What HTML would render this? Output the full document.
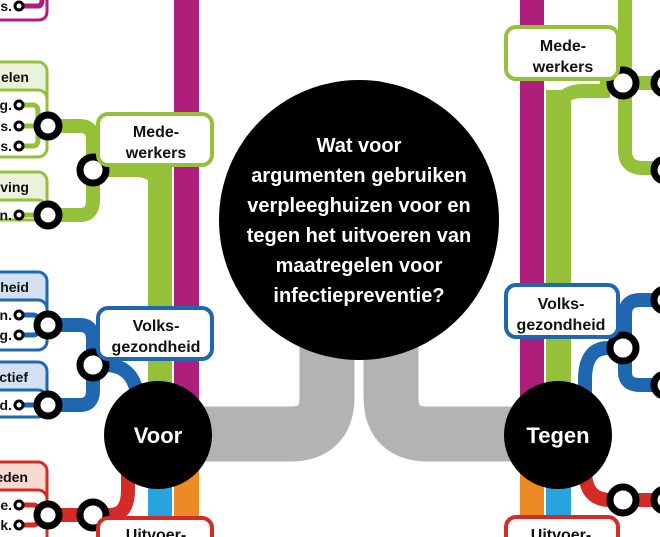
<!DOCTYPE html>
<html><head><meta charset="utf-8"><style>
html,body{margin:0;padding:0;background:#fff;}
svg{display:block}
</style></head><body>
<svg width="660" height="537" viewBox="0 0 660 537" xmlns="http://www.w3.org/2000/svg" font-family="Liberation Sans, sans-serif" font-weight="700">
<!-- gray connectors -->
<g fill="none" stroke="#b3b3b3" stroke-width="55">
<path d="M200 434 H290 Q327 434 327 397 V330"/>
<path d="M520 434 H428 Q391 434 391 397 V330"/>
</g>
<!-- LEFT vertical lines -->
<rect x="174" y="0" width="25" height="420" fill="#b01e7c"/>
<rect x="148" y="160" width="24" height="240" fill="#95c13a"/>
<rect x="148" y="470" width="24" height="67" fill="#27a3de"/>
<rect x="174" y="470" width="25" height="67" fill="#ee8a25"/>
<!-- top magenta box -->
<path d="M0 20 H38 Q47 20 47 11 V0" fill="none" stroke="#b01e7c" stroke-width="3"/>
<path d="M20 6 H38 Q42 6 42 0" fill="none" stroke="#b01e7c" stroke-width="5"/>
<!-- green boxes left -->
<rect x="-10" y="62" width="57" height="95" rx="9" fill="#eaf2dc" stroke="#95c13a" stroke-width="3"/>
<rect x="-10" y="90" width="57" height="67" rx="9" fill="#fff" stroke="#95c13a" stroke-width="3"/>
<rect x="-10" y="172" width="57" height="48" rx="9" fill="#eaf2dc" stroke="#95c13a" stroke-width="3"/>
<rect x="-10" y="200" width="57" height="20" rx="9" fill="#fff" stroke="#95c13a" stroke-width="3"/>
<g fill="none" stroke="#95c13a" stroke-width="5">
<path d="M19 105 H33 Q38 105 38 112 V139 Q38 146 33 146 H19"/>
<path d="M19 126 H48"/>
<path d="M19 215 H48"/>
</g>
<g fill="none" stroke="#95c13a" stroke-width="14">
<path d="M48 126 H80 Q93 126 93 140 V200 Q93 215 80 215 H48"/>
<path d="M93 170 H135 Q160 170 160 195 V400"/>
</g>
<!-- blue boxes left -->
<rect x="-10" y="272" width="57" height="78" rx="9" fill="#d3e0f1" stroke="#1f67b1" stroke-width="3"/>
<rect x="-10" y="300" width="57" height="50" rx="9" fill="#fff" stroke="#1f67b1" stroke-width="3"/>
<rect x="-10" y="362" width="57" height="55" rx="9" fill="#d3e0f1" stroke="#1f67b1" stroke-width="3"/>
<rect x="-10" y="390" width="57" height="27" rx="9" fill="#fff" stroke="#1f67b1" stroke-width="3"/>
<g fill="none" stroke="#1f67b1" stroke-width="5">
<path d="M19 315 H33 Q38 315 38 320 V330 Q38 335 33 335 H19"/>
<path d="M19 405 H48"/>
</g>
<g fill="none" stroke="#1f67b1" stroke-width="14">
<path d="M48 325 H80 Q93 325 93 340 V390 Q93 405 80 405 H48"/>
<path d="M93 365 H105 Q135 365 138 400"/>
</g>
<!-- red left -->
<rect x="-10" y="462" width="57" height="90" rx="9" fill="#f7d9cf" stroke="#d52b26" stroke-width="3"/>
<rect x="-10" y="490" width="57" height="60" rx="9" fill="#fff" stroke="#d52b26" stroke-width="3"/>
<g fill="none" stroke="#d52b26" stroke-width="5">
<path d="M19 505 H33 Q38 505 38 510 V520 Q38 525 33 525 H19"/>
</g>
<g fill="none" stroke="#d52b26" stroke-width="14">
<path d="M48 515 H110 Q128 515 128 490 V470"/>
</g>
<!-- left labels -->
<g font-size="14" fill="#111" text-anchor="end">
<text x="12" y="11">s.</text>
<text x="29" y="82">delen</text>
<text x="12" y="110">g.</text>
<text x="12" y="131">s.</text>
<text x="12" y="151">s.</text>
<text x="29" y="192">eving</text>
<text x="12" y="220">n.</text>
<text x="29" y="292">dheid</text>
<text x="12" y="320">n.</text>
<text x="12" y="340">g.</text>
<text x="28" y="382">ectief</text>
<text x="12" y="410">d.</text>
<text x="28" y="482">eden</text>
<text x="12" y="510">e.</text>
<text x="12" y="530">k.</text>
</g>
<!-- small circles left -->
<g fill="#fff" stroke="#000" stroke-width="3">
<circle cx="19" cy="6" r="4"/>
<circle cx="19" cy="105" r="4"/><circle cx="19" cy="126" r="4"/><circle cx="19" cy="146" r="4"/>
<circle cx="19" cy="215" r="4"/>
<circle cx="19" cy="315" r="4"/><circle cx="19" cy="335" r="4"/>
<circle cx="19" cy="405" r="4"/>
<circle cx="19" cy="505" r="4"/><circle cx="19" cy="525" r="4"/>
</g>
<g fill="#fff" stroke="#000" stroke-width="7">
<circle cx="48" cy="126" r="11"/><circle cx="48" cy="215" r="11"/>
<circle cx="48" cy="325" r="11"/><circle cx="48" cy="405" r="11"/>
<circle cx="48" cy="515" r="11"/>
<circle cx="93" cy="170" r="13"/><circle cx="93" cy="365" r="13"/><circle cx="93" cy="515" r="13"/>
</g>
<!-- left main boxes -->
<rect x="98" y="114" width="114" height="51" rx="10" fill="#fff" stroke="#95c13a" stroke-width="4"/>
<rect x="98" y="308" width="114" height="51" rx="10" fill="#fff" stroke="#1f67b1" stroke-width="4"/>
<rect x="98" y="518" width="114" height="40" rx="10" fill="#fff" stroke="#d52b26" stroke-width="4"/>
<g font-size="16" fill="#111" text-anchor="middle">
<text x="156" y="137">Mede-</text><text x="156" y="158">werkers</text>
<text x="156" y="331">Volks-</text><text x="156" y="352">gezondheid</text>
<text x="156" y="540">Uitvoer-</text>
</g>
<!-- RIGHT -->
<rect x="520" y="0" width="24" height="420" fill="#b01e7c"/>
<rect x="546" y="90" width="25" height="300" fill="#95c13a"/>
<rect x="520" y="470" width="24" height="67" fill="#ee8a25"/>
<rect x="546" y="470" width="25" height="67" fill="#27a3de"/>
<g fill="none" stroke="#95c13a" stroke-width="14">
<path d="M625 0 V150 Q625 168 643 168 H660"/>
<path d="M600 83 H660"/>
<path d="M610 91 H583 Q558 91 558 115 V390"/>
</g>
<g fill="none" stroke="#1f67b1" stroke-width="14">
<path d="M660 300 H640 Q625 300 625 315 V372 Q625 385 640 385 H660"/>
<path d="M623 348 H608 Q585 348 585 380 V400"/>
</g>
<g fill="none" stroke="#d52b26" stroke-width="14">
<path d="M585 470 Q585 500 610 500 H660"/>
</g>
<g fill="#fff" stroke="#000" stroke-width="7">
<circle cx="623" cy="83" r="13"/><circle cx="623" cy="348" r="13"/><circle cx="623" cy="500" r="13"/>
<circle cx="665" cy="83" r="11"/><circle cx="665" cy="170" r="11"/>
<circle cx="665" cy="300" r="11"/><circle cx="665" cy="385" r="11"/><circle cx="665" cy="500" r="11"/>
</g>
<rect x="506" y="27" width="112" height="52" rx="10" fill="#fff" stroke="#95c13a" stroke-width="4"/>
<rect x="506" y="285" width="112" height="52" rx="10" fill="#fff" stroke="#1f67b1" stroke-width="4"/>
<rect x="506" y="517" width="112" height="40" rx="10" fill="#fff" stroke="#d52b26" stroke-width="4"/>
<g font-size="16" fill="#111" text-anchor="middle">
<text x="563" y="51">Mede-</text><text x="563" y="72">werkers</text>
<text x="561" y="309">Volks-</text><text x="561" y="330">gezondheid</text>
<text x="561" y="540">Uitvoer-</text>
</g>
<!-- big circles -->
<circle cx="359" cy="220" r="140" fill="#000"/>
<circle cx="158" cy="435" r="54" fill="#000"/>
<circle cx="558" cy="435" r="54" fill="#000"/>
<g fill="#fff" text-anchor="middle">
<text x="158" y="443" font-size="22">Voor</text>
<text x="558" y="443" font-size="22">Tegen</text>
<g font-size="20">
<text x="359" y="152">Wat voor</text>
<text x="359" y="182">argumenten gebruiken</text>
<text x="359" y="212">verpleeghuizen voor en</text>
<text x="359" y="242">tegen het uitvoeren van</text>
<text x="359" y="272">maatregelen voor</text>
<text x="359" y="302">infectiepreventie?</text>
</g>
</g>
</svg>
</body></html>
